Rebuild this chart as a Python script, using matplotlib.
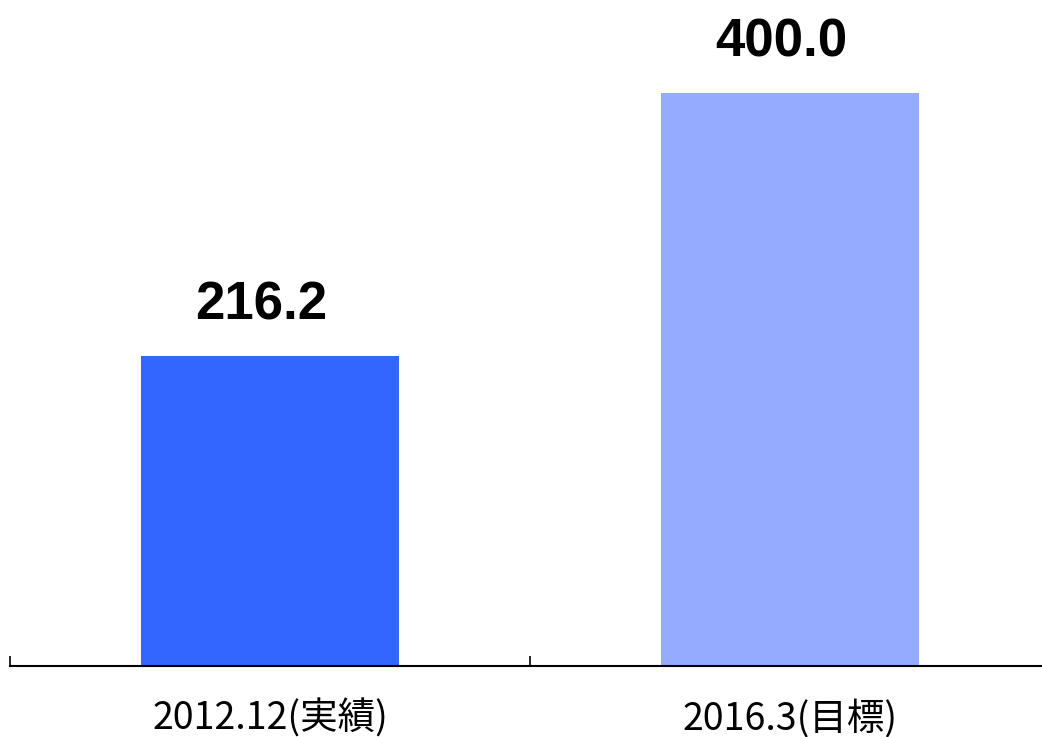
import matplotlib
matplotlib.use('Agg')
import matplotlib.pyplot as plt
from matplotlib.ticker import FixedLocator

# data
categories = ['2012.12(実績)', '2016.3(目標)']
values = [216.2, 400.0]
value_labels = ['216.2', '400.0']
bar_colors = ['#3366ff', '#94abff']

W, H = 1042, 737
fig = plt.figure(figsize=(W / 100, H / 100), dpi=100)

# axes: left edge at x=10px, zero line at y=666px, top of figure
ax = fig.add_axes([10 / W, (H - 666) / H, (1050 - 10) / W, 666 / H])
x = list(range(len(categories)))
bars = ax.bar(x, values, width=0.495, color=bar_colors, linewidth=0, zorder=2)

ax.set_xlim(-0.5, 1.5)
ax.set_ylim(0, 666 / 1.4325)

for xi, v, lab in zip(x, values, value_labels):
    ax.annotate(lab, (xi, v), xytext=(-6.5, 26.5), textcoords='offset points',
                ha='center', va='baseline', fontsize=38, fontweight='bold',
                family=['Liberation Sans', 'DejaVu Sans'])

for s in ['top', 'right', 'left']:
    ax.spines[s].set_visible(False)
ax.spines['bottom'].set_linewidth(1.5)
ax.set_yticks([])

ax.set_xticks(x)
ax.set_xticklabels(categories, fontsize=27,
                   family=['Noto Sans CJK JP', 'DejaVu Sans'])
ax.tick_params(axis='x', which='major', length=0, pad=24)
ax.xaxis.set_minor_locator(FixedLocator([-0.5, 0.5, 1.5]))
ax.tick_params(axis='x', which='minor', direction='in', length=7.5, width=1.2)

fig.savefig('out.png', dpi=100)
